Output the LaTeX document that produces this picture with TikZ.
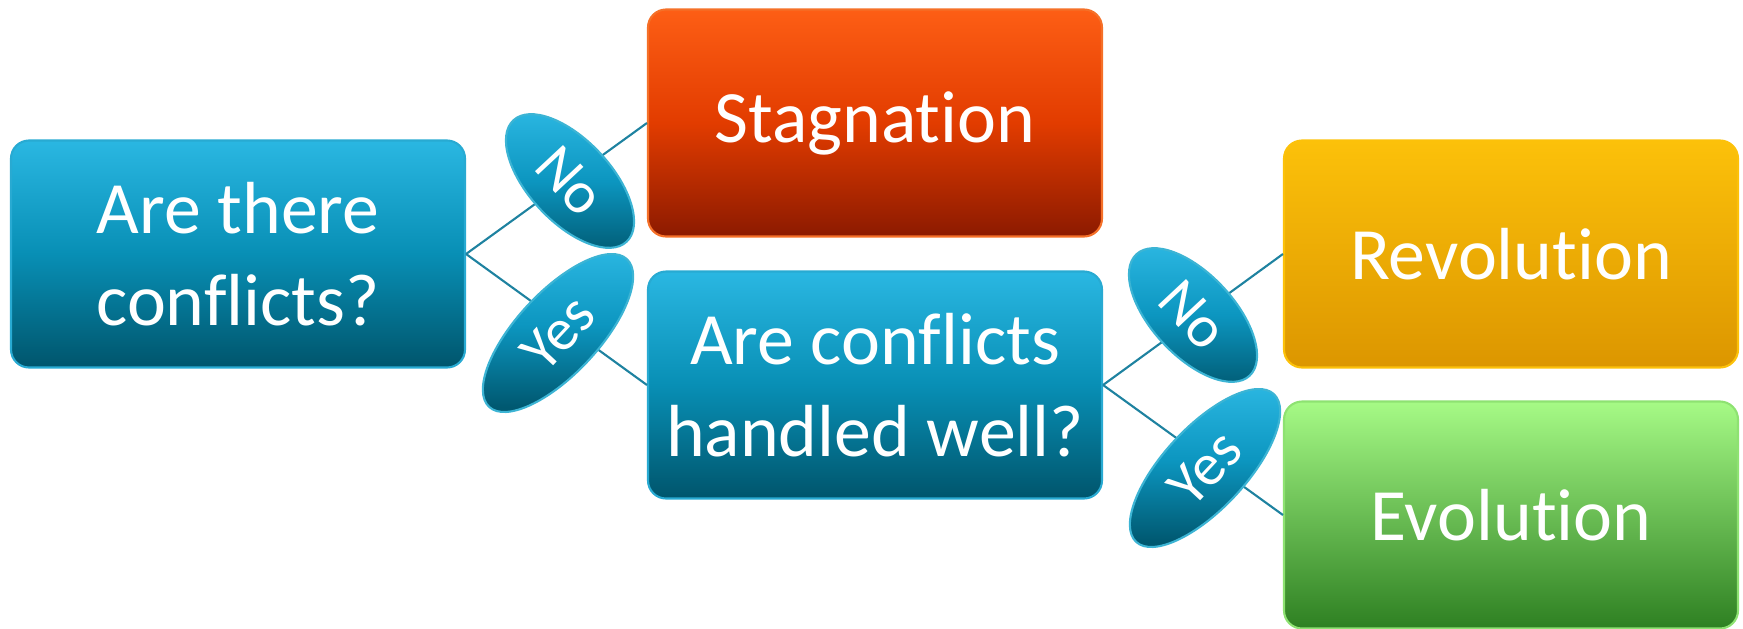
\documentclass[tikz,border=0pt]{standalone}
\usepackage{fontspec}
\setmainfont{Carlito}[Ligatures=NoCommon]
\definecolor{QuestionTop}{RGB}{42,183,226}
\definecolor{QuestionMid}{RGB}{8,143,181}
\definecolor{QuestionBot}{RGB}{0,85,108}
\definecolor{QuestionEdge}{RGB}{40,170,210}
\definecolor{StagTop}{RGB}{253,94,21}
\definecolor{StagMid}{RGB}{226,60,0}
\definecolor{StagBot}{RGB}{140,26,0}
\definecolor{StagEdge}{RGB}{245,112,40}
\definecolor{RevTop}{RGB}{252,193,10}
\definecolor{RevBot}{RGB}{220,150,0}
\definecolor{EvoTop}{RGB}{166,250,134}
\definecolor{EvoBot}{RGB}{46,128,34}
\definecolor{AnswerTop}{RGB}{45,185,228}
\definecolor{AnswerMid}{RGB}{12,150,192}
\definecolor{AnswerBot}{RGB}{0,88,112}
\definecolor{AnswerEdge}{RGB}{60,180,212}
\definecolor{LinkColor}{RGB}{30,130,160}
\usepackage{tikz}
\usetikzlibrary{shapes.geometric}
\tikzstyle{box} = [rectangle, rounded corners=0.18cm, minimum width=4.54cm, minimum height=2.27cm, text=white, align=center, line width=0.6pt, font=\fontsize{21}{26}\selectfont]
\tikzstyle{question} = [box, draw=QuestionEdge, top color=QuestionTop, bottom color=QuestionBot, middle color=QuestionMid]
\tikzstyle{answer} = [ellipse, draw=AnswerEdge, line width=0.6pt, top color=AnswerTop, bottom color=AnswerBot, middle color=AnswerMid, text=white, inner sep=0pt, minimum height=0.82cm, font=\fontsize{17}{20}\selectfont]
\tikzstyle{link} = [draw=LinkColor, line width=0.6pt]

\begin{document}
\begin{tikzpicture}
      \useasboundingbox (0,0) rectangle (17.43,6.28);

      % Questions
      \node[question] (conflicts) at (2.38,3.74) {Are there\\conflicts?};
      \node[question] (handled) at (8.75,2.43) {Are conflicts\\handled well?};

      % Outcomes
      \node[box, draw=StagEdge, top color=StagTop, bottom color=StagBot, middle color=StagMid] (stagnation) at (8.75,5.05) {Stagnation};
      \node[box, draw=RevTop, top color=RevTop, bottom color=RevBot] (revolution) at (15.11,3.74) {Revolution};
      \node[box, draw=EvoTop!80!EvoBot, top color=EvoTop, bottom color=EvoBot] (evolution) at (15.11,1.13) {Evolution};

      % Connections
      \draw[link] (conflicts.east) -- (stagnation.west);
      \draw[link] (conflicts.east) -- (handled.west);
      \draw[link] (handled.east) -- (revolution.west);
      \draw[link] (handled.east) -- (evolution.west);

      % Answers
      \node[answer, minimum width=1.66cm, rotate=-47] (no1) at (5.70,4.47) {No};
      \node[answer, minimum width=2.02cm, rotate=47] (yes1) at (5.58,2.95) {Yes};
      \node[answer, minimum width=1.66cm, rotate=-47] (no2) at (11.93,3.13) {No};
      \node[answer, minimum width=2.02cm, rotate=47] (yes2) at (12.05,1.60) {Yes};
    \end{tikzpicture}
\end{document}
